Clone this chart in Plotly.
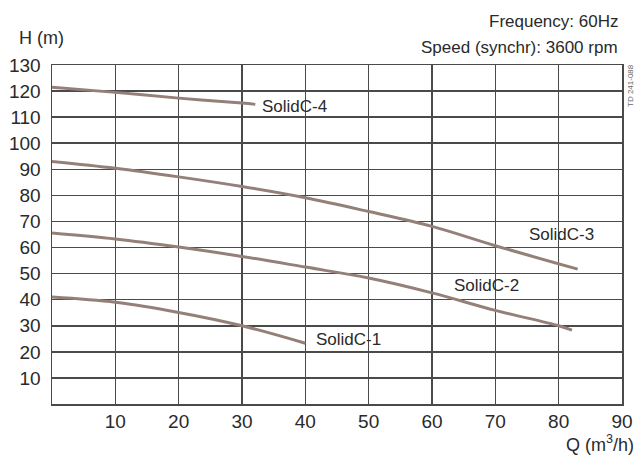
import plotly.graph_objects as go

# Data
q1 = [0, 10, 20, 30, 40]
h1 = [41.0, 39.0, 35.1, 30.0, 23.3]

q2 = [0, 10, 20, 30, 40, 50, 60, 70, 80, 82.1]
h2 = [65.6, 63.3, 60.2, 56.6, 52.5, 48.3, 42.6, 35.9, 30.0, 28.3]

q3 = [0, 10, 20, 30, 40, 50, 60, 70, 83]
h3 = [93.0, 90.4, 87.1, 83.4, 79.1, 73.8, 68.1, 60.7, 51.7]

q4 = [0, 10, 20, 30, 32.1]
h4 = [121.5, 119.5, 117.3, 115.4, 114.9]

curve_names = ["SolidC-1", "SolidC-2", "SolidC-3", "SolidC-4"]
label_x = [41.3, 63.2, 75.0, 32.9]
label_y = [24.9, 45.3, 64.9, 114.0]

x_ticks = [10, 20, 30, 40, 50, 60, 70, 80, 90]
y_ticks = [10, 20, 30, 40, 50, 60, 70, 80, 90, 100, 110, 120, 130]

FONT = "Liberation Sans"
TEXT_COLOR = "#2a2a2a"
CURVE_COLOR = "#948079"
GRID_COLOR = "#4a4a4a"

fig = go.Figure()
for qs, hs in [(q1, h1), (q2, h2), (q3, h3), (q4, h4)]:
    fig.add_trace(go.Scatter(x=qs, y=hs, mode="lines",
                             line=dict(color=CURVE_COLOR, width=3, shape="spline"),
                             showlegend=False, hoverinfo="skip"))

for name, lx, ly in zip(curve_names, label_x, label_y):
    fig.add_annotation(x=lx, y=ly, xref="x", yref="y", text=name, showarrow=False,
                       xanchor="left", yanchor="middle",
                       font=dict(family=FONT, size=17, color=TEXT_COLOR))

fig.add_annotation(x=17, y=38, text="H (m)", showarrow=False,
                   xanchor="left", yanchor="middle", font=dict(family=FONT, size=18, color=TEXT_COLOR))
fig.add_annotation(x=620, y=21.7, text="Frequency: 60Hz", showarrow=False,
                   xanchor="right", yanchor="middle", font=dict(family=FONT, size=17, color=TEXT_COLOR))
fig.add_annotation(x=620, y=47.3, text="Speed (synchr): 3600 rpm", showarrow=False,
                   xanchor="right", yanchor="middle", font=dict(family=FONT, size=17, color=TEXT_COLOR))
fig.add_annotation(x=636, y=443, text="Q (m<sup>3</sup>/h)", showarrow=False,
                   xanchor="right", yanchor="middle", font=dict(family=FONT, size=18, color=TEXT_COLOR))
fig.add_annotation(x=630, y=86, text="TD 241-088", showarrow=False, textangle=-90,
                   xanchor="center", yanchor="middle", font=dict(family=FONT, size=8, color="#666"))

# convert pixel positions for paper-referenced annotations
W, H = 638, 456
ML, MR, MT, MB = 52, 16, 65, 52
pw, ph = W - ML - MR, H - MT - MB
for a in fig.layout.annotations:
    if a.xref != "x":
        a.xref = "paper"
        a.yref = "paper"
        a.x = (a.x - ML) / pw
        a.y = 1 - (a.y - MT) / ph

fig.update_layout(
    width=W, height=H,
    margin=dict(l=ML, r=MR, t=MT, b=MB, autoexpand=False),
    paper_bgcolor="white", plot_bgcolor="white",
    font=dict(family=FONT, size=19, color=TEXT_COLOR),
    xaxis=dict(range=[0, 90], tickvals=x_ticks, showgrid=True, gridcolor=GRID_COLOR,
               gridwidth=1.5, showline=True, linecolor=GRID_COLOR, linewidth=1.5, mirror=True,
               zeroline=False, ticks="", fixedrange=True, automargin=False),
    yaxis=dict(range=[0, 130], tickvals=y_ticks, showgrid=True, gridcolor=GRID_COLOR,
               gridwidth=1.5, showline=True, linecolor=GRID_COLOR, linewidth=1.5, mirror=True,
               zeroline=False, ticks="", ticklabelstandoff=6, fixedrange=True, automargin=False),
)

fig.write_html("out.html", config={"displayModeBar": False, "staticPlot": True},
               post_script="document.body.style.margin='0';document.body.style.overflow='hidden';")
